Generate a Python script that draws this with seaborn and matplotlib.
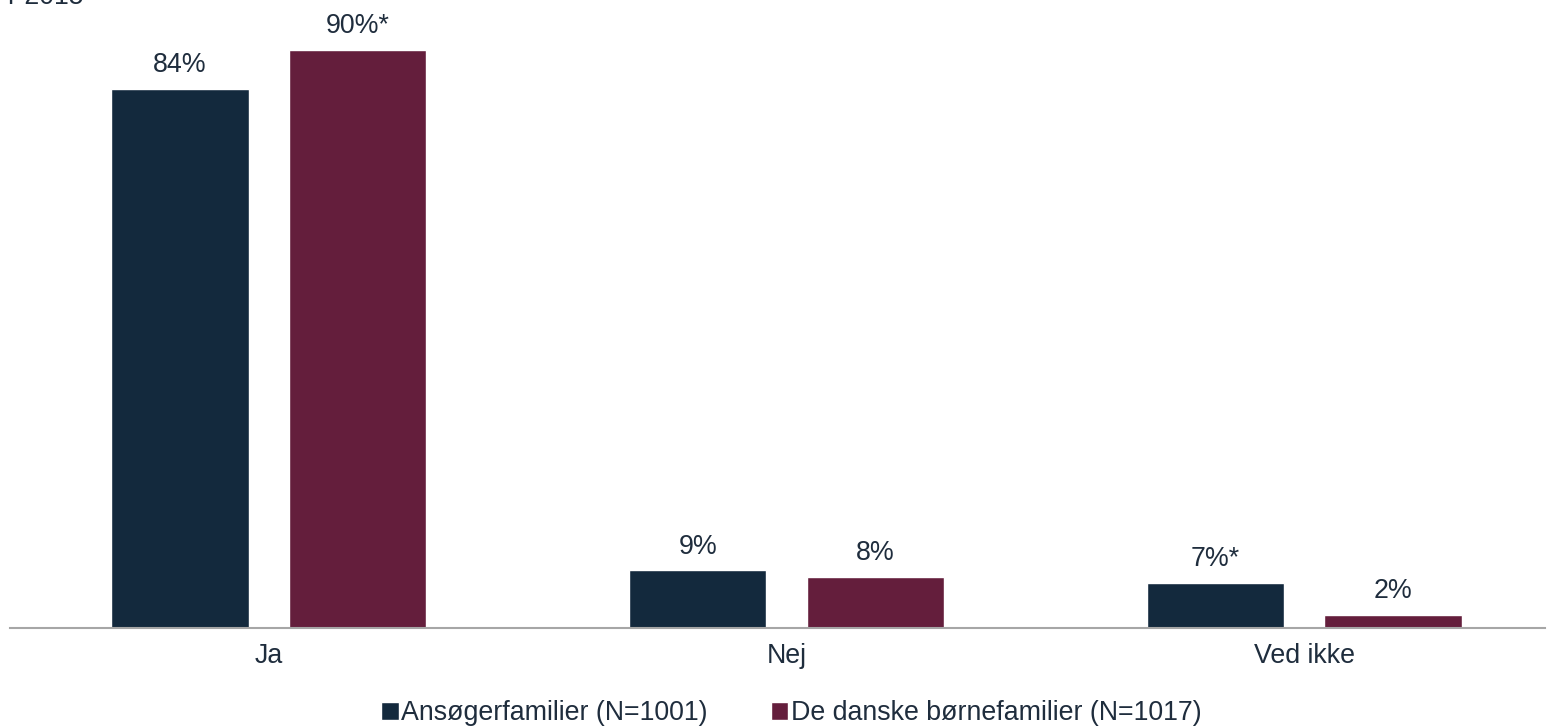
import matplotlib
matplotlib.use("Agg")
import matplotlib.pyplot as plt
import seaborn as sns
import pandas as pd

categories = ["Ja", "Nej", "Ved ikke"]
groups = ["Ansøgerfamilier (N=1001)", "De danske børnefamilier (N=1017)"]
ansoeger = [84, 9, 7]
danske = [90, 8, 2]
labels_ansoeger = ["84%", "9%", "7%*"]
labels_danske = ["90%*", "8%", "2%"]

colors = ["#13293D", "#641E3C"]
text_color = "#1F2D3D"
fs = 19.3

df = pd.DataFrame({
    "kategori": categories * 2,
    "gruppe": [groups[0]] * 3 + [groups[1]] * 3,
    "andel": ansoeger + danske,
})

sns.set_style("white")
plt.rcParams["font.family"] = ["Liberation Sans", "DejaVu Sans"]

fig = plt.figure(figsize=(15.47, 7.26), dpi=100)
ax = fig.add_axes([10 / 1547, 98 / 726, 1535 / 1547, 628 / 726])

sns.barplot(data=df, x="kategori", y="andel", hue="gruppe", order=categories,
            hue_order=groups, palette=colors, width=0.686, gap=0.227,
            saturation=1, errorbar=None, ax=ax, legend=True)

# value labels
for cont, labs in zip(ax.containers, [labels_ansoeger, labels_danske]):
    for bar, lab in zip(cont, labs):
        ax.annotate(lab, (bar.get_x() + bar.get_width() / 2, bar.get_height()),
                    xytext=(0, 12), textcoords="offset points",
                    ha="center", va="baseline", fontsize=fs, color=text_color)

ax.set_xlim(-0.5, 2.465)
ax.set_ylim(0, 97.8)
ax.set_xlabel("")
ax.set_ylabel("")
ax.set_yticks([])
for s in ["top", "right", "left"]:
    ax.spines[s].set_visible(False)
ax.spines["bottom"].set_color("#A6A6A6")
ax.spines["bottom"].set_linewidth(1.5)
ax.tick_params(axis="x", length=0, pad=11, labelsize=fs, labelcolor=text_color)

handles, lbls = ax.get_legend_handles_labels()
ax.legend(handles, lbls, loc="upper center", bbox_to_anchor=(0.509, -0.077),
          ncol=2, frameon=False, fontsize=fs, handlelength=0.65,
          handleheight=0.65, handletextpad=0.1, columnspacing=2.35,
          labelcolor=text_color)

# clipped title fragment at top
fig.text(8 / 1547, 1 - 4 / 726, "r 2015", fontsize=fs, color=text_color,
         va="baseline", ha="left")

fig.savefig("out.png", dpi=100, facecolor="white")
